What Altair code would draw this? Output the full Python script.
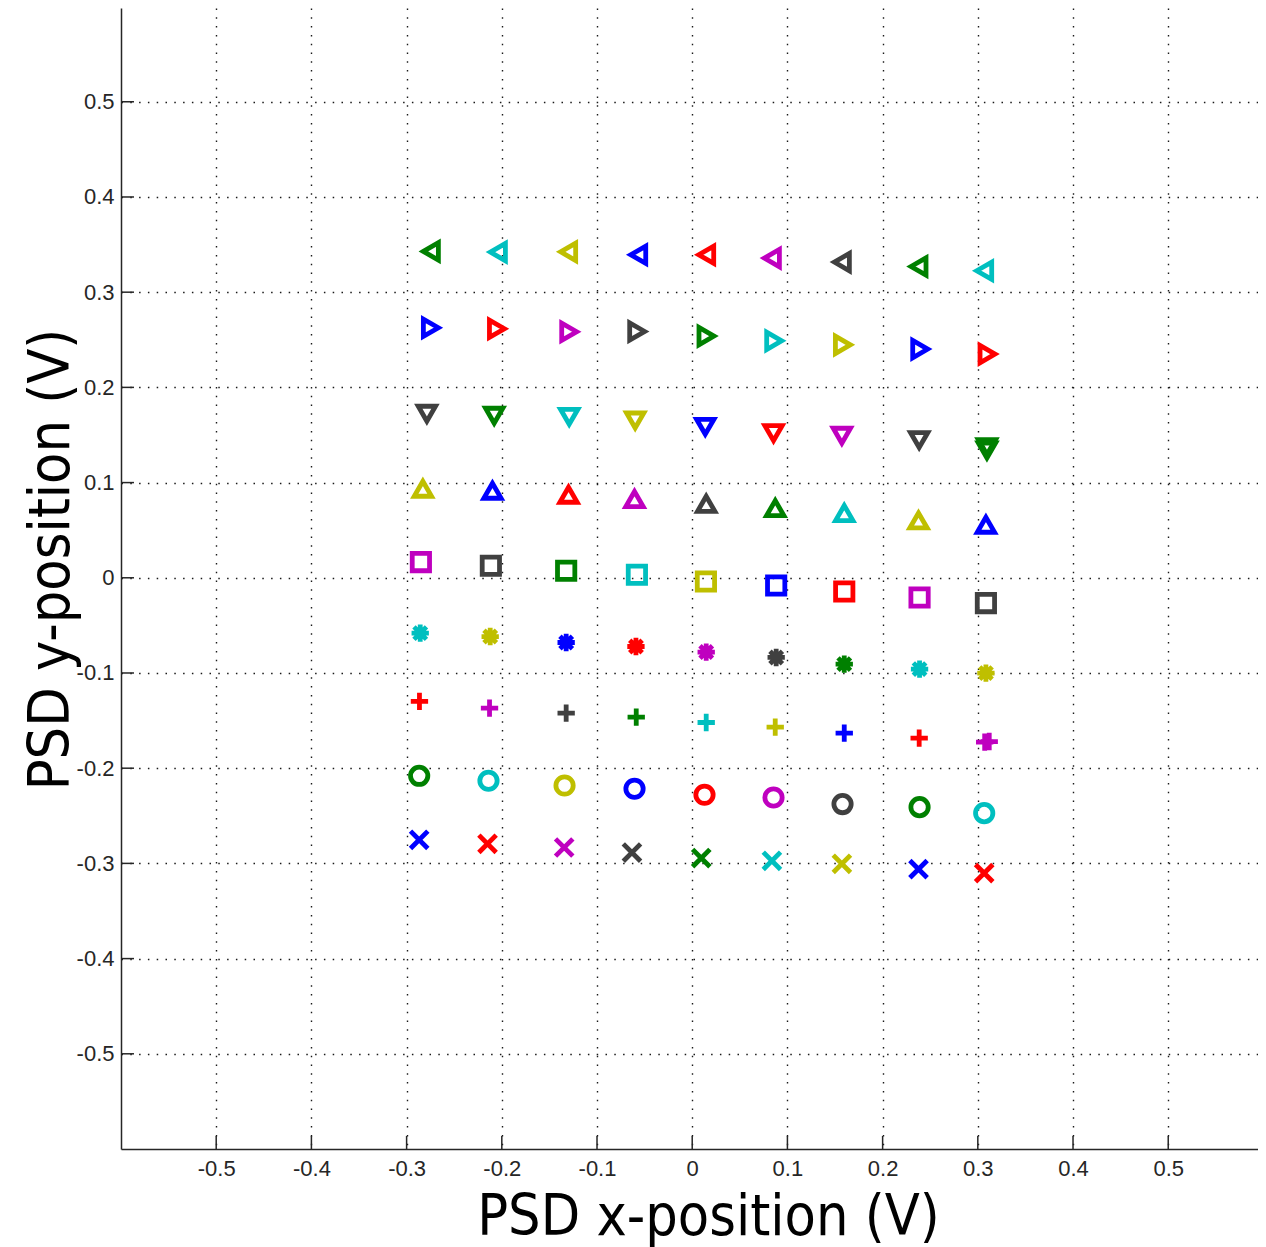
import altair as alt
import pandas as pd

# ---------------- data ----------------
tick_values = [-0.5, -0.4, -0.3, -0.2, -0.1, 0.0, 0.1, 0.2, 0.3, 0.4, 0.5]

marker_names = ["tri_left", "tri_right", "tri_down", "tri_up", "square",
                "star", "plus", "circle", "cross"]

x_tri_left = [-0.2745, -0.2041, -0.1303, -0.0567, 0.0147, 0.0837, 0.1572, 0.2377, 0.3067]
y_tri_left = [0.3428, 0.3421, 0.3424, 0.3393, 0.3393, 0.3358, 0.3316, 0.3270, 0.3225]
c_tri_left = ["g", "c", "y", "b", "r", "m", "k", "g", "c"]

x_tri_right = [-0.2745, -0.2051, -0.1292, -0.0578, 0.0150, 0.0861, 0.1583, 0.2395, 0.3102]
y_tri_right = [0.2626, 0.2616, 0.2584, 0.2587, 0.2539, 0.2489, 0.2447, 0.2402, 0.2350]
c_tri_right = ["b", "r", "m", "k", "g", "c", "y", "b", "r"]

x_tri_down = [-0.2787, -0.2080, -0.1292, -0.0599, 0.0137, 0.0854, 0.1572, 0.2384, 0.3096, 0.3096]
y_tri_down = [0.1723, 0.1702, 0.1691, 0.1652, 0.1586, 0.1520, 0.1492, 0.1447, 0.1337, 0.1373]
c_tri_down = ["k", "g", "c", "y", "b", "r", "m", "k", "g", "g"]

x_tri_up = [-0.2829, -0.2098, -0.1299, -0.0606, 0.0147, 0.0872, 0.1597, 0.2377, 0.3085]
y_tri_up = [0.0935, 0.0914, 0.0872, 0.0827, 0.0777, 0.0732, 0.0680, 0.0602, 0.0557]
c_tri_up = ["y", "b", "r", "m", "k", "g", "c", "y", "b"]

x_square = [-0.2850, -0.2115, -0.1324, -0.0581, 0.0144, 0.0882, 0.1597, 0.2388, 0.3085]
y_square = [0.0165, 0.0126, 0.0074, 0.0032, -0.0039, -0.0081, -0.0144, -0.0207, -0.0266]
c_square = ["m", "k", "g", "c", "y", "b", "r", "m", "k"]

x_star = [-0.2857, -0.2122, -0.1324, -0.0591, 0.0147, 0.0882, 0.1597, 0.2388, 0.3085]
y_star = [-0.0581, -0.0617, -0.0680, -0.0722, -0.0780, -0.0837, -0.0907, -0.0959, -0.1001]
c_star = ["c", "y", "b", "r", "m", "k", "g", "c", "y"]

x_plus = [-0.2865, -0.2129, -0.1324, -0.0588, 0.0147, 0.0872, 0.1597, 0.2384, 0.3072, 0.3120]
y_plus = [-0.1299, -0.1369, -0.1421, -0.1463, -0.1520, -0.1568, -0.1631, -0.1684, -0.1726, -0.1720]
c_plus = ["r", "m", "k", "g", "c", "y", "b", "r", "m", "m"]

x_circle = [-0.2868, -0.2140, -0.1341, -0.0606, 0.0129, 0.0854, 0.1579, 0.2388, 0.3067]
y_circle = [-0.2080, -0.2132, -0.2182, -0.2216, -0.2279, -0.2308, -0.2377, -0.2409, -0.2472]
c_circle = ["g", "c", "y", "b", "r", "m", "k", "g", "c"]

x_cross = [-0.2868, -0.2150, -0.1345, -0.0633, 0.0095, 0.0837, 0.1572, 0.2377, 0.3067]
y_cross = [-0.2752, -0.2794, -0.2833, -0.2886, -0.2944, -0.2973, -0.3004, -0.3060, -0.3102]
c_cross = ["b", "r", "m", "k", "g", "c", "y", "b", "r"]

color_keys = ["b", "g", "r", "c", "m", "y", "k"]
color_hex = ["#0000FF", "#008000", "#FF0000", "#00BFBF", "#BF00BF", "#BFBF00", "#404040"]

# ---------------- styling ----------------
shape_range = [
    "triangle-left", "triangle-right", "triangle-down", "triangle-up", "square",
    "M-1,0L1,0M0,-1L0,1M-0.72,-0.72L0.72,0.72M-0.72,0.72L0.72,-0.72",
    "M-1,0L1,0M0,-1L0,1",
    "circle",
    "M-1,-1L1,1M-1,1L1,-1",
]
size_range = [300, 300, 330, 300, 210, 260, 330, 220, 70]
width_range = [4.8, 4.8, 4.8, 4.8, 5.0, 5.0, 3.8, 5.2, 4.6]

rows = [
    ("tri_left", x_tri_left, y_tri_left, c_tri_left),
    ("tri_right", x_tri_right, y_tri_right, c_tri_right),
    ("tri_down", x_tri_down, y_tri_down, c_tri_down),
    ("tri_up", x_tri_up, y_tri_up, c_tri_up),
    ("square", x_square, y_square, c_square),
    ("star", x_star, y_star, c_star),
    ("plus", x_plus, y_plus, c_plus),
    ("circle", x_circle, y_circle, c_circle),
    ("cross", x_cross, y_cross, c_cross),
]
records = []
for name, xs, ys, cs in rows:
    for xv, yv, cv in zip(xs, ys, cs):
        records.append({"marker": name, "x": xv, "y": yv, "col": cv})
df = pd.DataFrame(records)
ticks_df = pd.DataFrame({"x": tick_values, "y": tick_values})

W, H = 1137, 1141
XDOM = [-0.6, 0.5943]
YDOM = [-0.6, 0.5985]
AX = "#262626"
label_expr = ("datum.value == 0 ? '0' : (datum.value < 0 ? '-' + format(-datum.value, '.1f')"
              " : format(datum.value, '.1f'))")
title_font = "DejaVu Sans Condensed, DejaVu Sans"

common_axis = dict(
    values=tick_values, labelExpr=label_expr, ticks=False, tickSize=0,
    domain=True, domainColor=AX, domainWidth=1.5,
    labelFont="Liberation Sans", labelFontSize=22, labelColor=AX,
    labelOverlap=False, labelFlush=False,
    grid=True, gridColor="#1a1a1a", gridDash=[1.5, 7.3], gridWidth=1.4, gridOpacity=1,
    titleFont=title_font, titleFontSize=57, titleFontWeight="normal", titleColor="#000000",
    titleAlign="center", titleBaseline="alphabetic",
)
x_axis = alt.Axis(title="PSD x-position (V)", orient="bottom", labelPadding=9,
                  titleX=587, titleY=85, **common_axis)
y_axis = alt.Axis(title="PSD y-position (V)", orient="left", labelPadding=7,
                  titleAngle=270, titleX=-53, titleY=551, **common_axis)

xscale = alt.Scale(domain=XDOM, nice=False, zero=False)
yscale = alt.Scale(domain=YDOM, nice=False, zero=False)

points = alt.Chart(df).mark_point(filled=False, opacity=1, strokeWidth=4).encode(
    x=alt.X("x:Q", scale=xscale, axis=x_axis),
    y=alt.Y("y:Q", scale=yscale, axis=y_axis),
    shape=alt.Shape("marker:N", scale=alt.Scale(domain=marker_names, range=shape_range), legend=None),
    size=alt.Size("marker:N", scale=alt.Scale(domain=marker_names, range=size_range), legend=None),
    strokeWidth=alt.StrokeWidth("marker:N", scale=alt.Scale(domain=marker_names, range=width_range), legend=None),
    color=alt.Color("col:N", scale=alt.Scale(domain=color_keys, range=color_hex), legend=None),
)

xticks = alt.Chart(ticks_df).mark_rule(color=AX, strokeWidth=1.5).encode(
    x=alt.X("x:Q", scale=xscale, axis=x_axis),
    y=alt.value(H),
    y2=alt.value(H - 13),
)
yticks = alt.Chart(ticks_df).mark_rule(color=AX, strokeWidth=1.5).encode(
    y=alt.Y("y:Q", scale=yscale, axis=y_axis),
    x=alt.value(0),
    x2=alt.value(13),
)

chart = alt.layer(points, xticks, yticks).properties(
    width=W, height=H,
    autosize=alt.AutoSizeParams(type="none"),
    padding={"left": 113, "top": 0, "right": 0, "bottom": 98},
    background="white",
).configure_view(stroke=None)

chart.save("out.html", embed_options={"renderer": "svg", "actions": False})
